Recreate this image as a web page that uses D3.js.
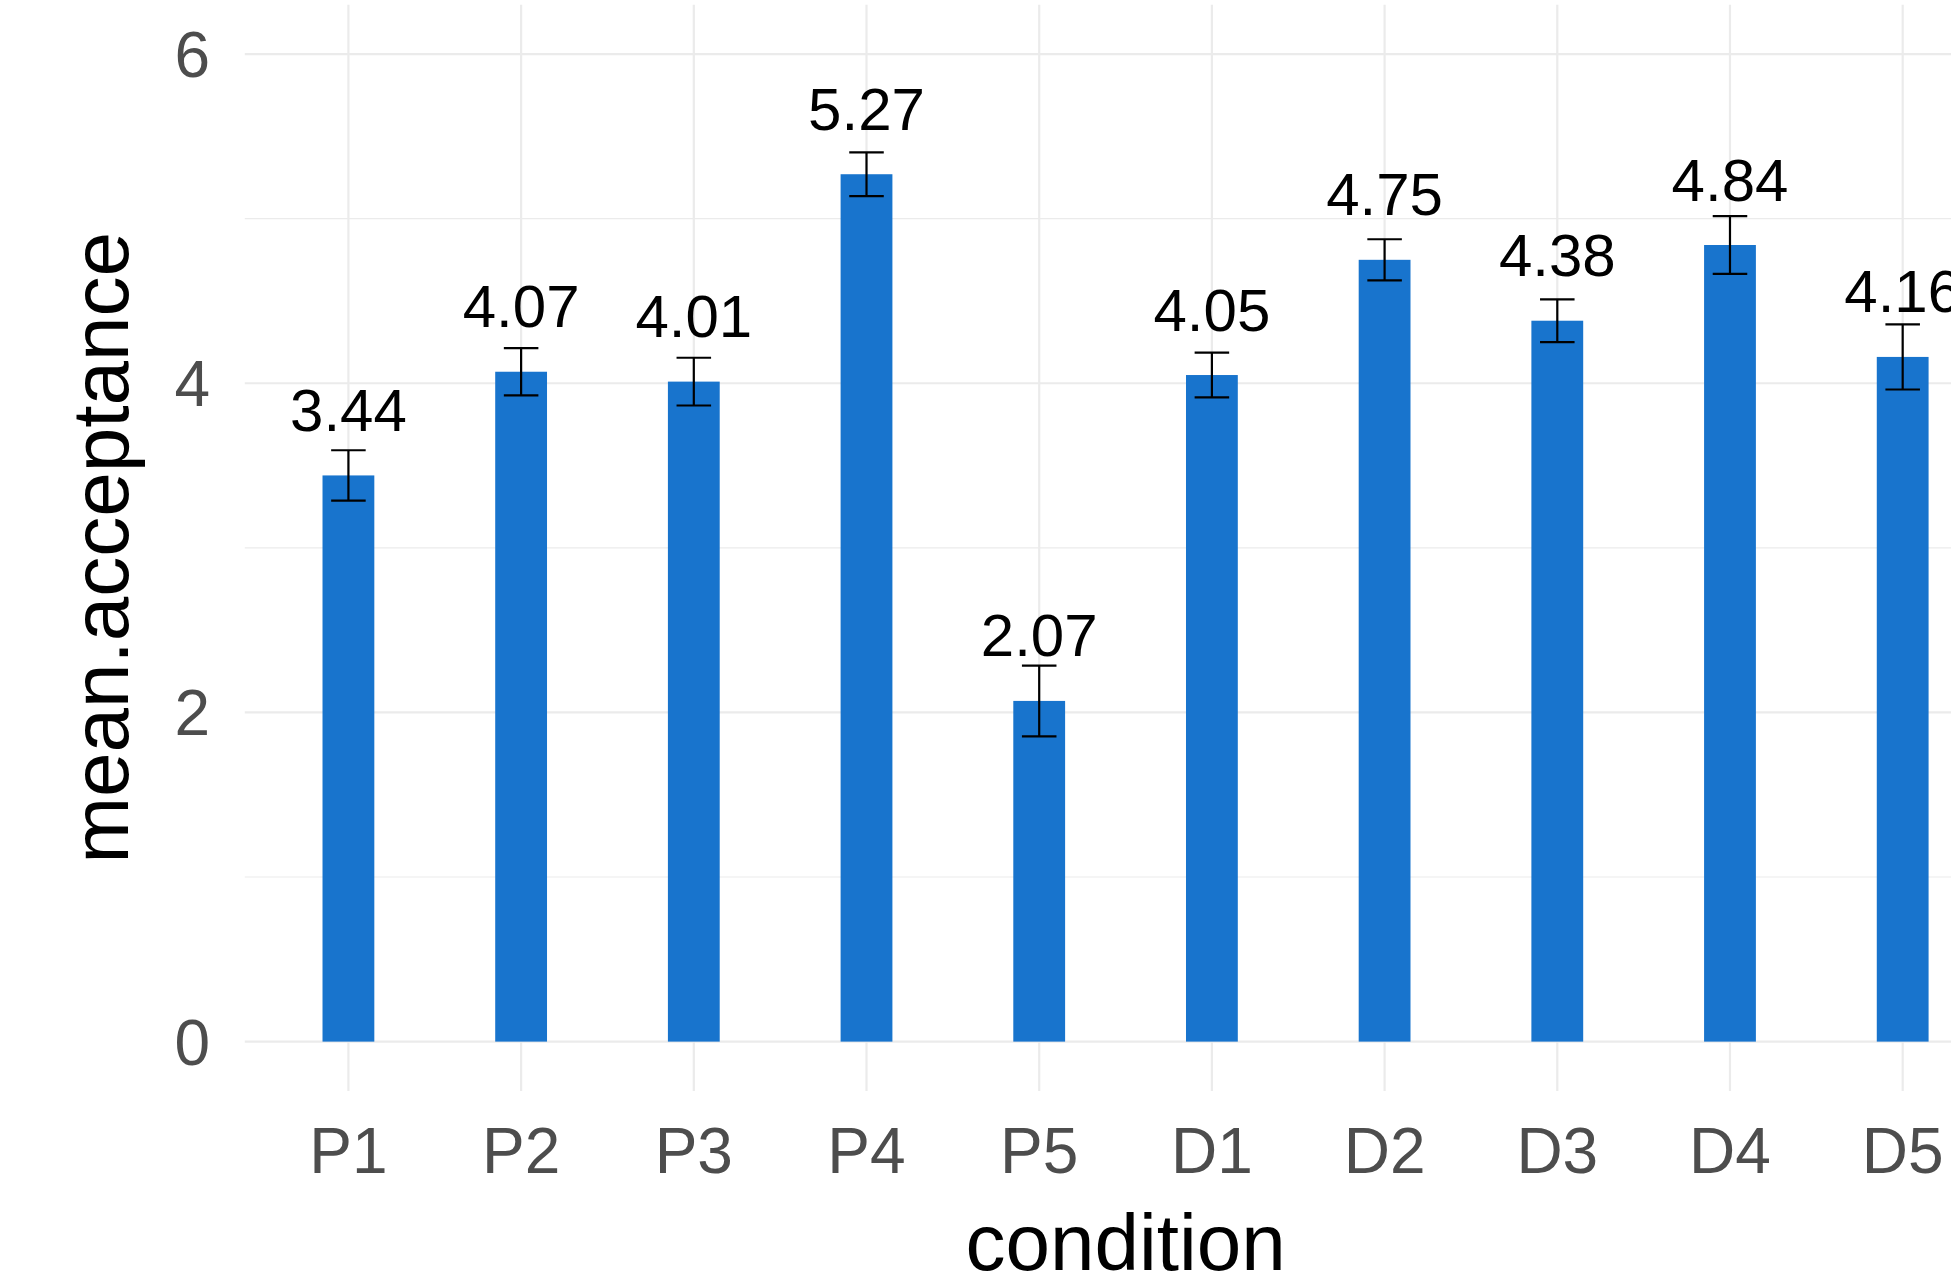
<!DOCTYPE html>
<html>
<head>
<meta charset="utf-8">
<script src="https://cdnjs.cloudflare.com/ajax/libs/d3/7.8.5/d3.min.js"></script>
<style>
	body { margin: 0; background: #ffffff; }
	svg { display: block; font-family: "Liberation Sans", Arial, Helvetica, sans-serif; }
</style>
</head>
<body>
<svg id="vis_canvas" width="1951" height="1278"></svg>
<script>
// Conditions on the x axis.
let conditions = ["P1", "P2", "P3", "P4", "P5", "D1", "D2", "D3", "D4", "D5"];
// Mean acceptance per condition.
let mean_acceptance = [3.44, 4.07, 4.01, 5.27, 2.07, 4.05, 4.75, 4.38, 4.84, 4.16];
// Standard error per condition (half length of the error bar).
let std_error = [0.153, 0.144, 0.145, 0.133, 0.215, 0.136, 0.125, 0.13, 0.175, 0.198];
// Y axis ticks.
let major_ticks = [0, 2, 4, 6];
let minor_ticks = [1, 3, 5];

let data = conditions.map(function (c, i) {
	return { condition: c, mean: mean_acceptance[i], se: std_error[i] };
});

// Panel, it runs past the right side of the picture.
let panel_left = 244.8, panel_right = 2006.3, panel_top = 4.7, panel_bottom = 1091;

let x = d3.scalePoint()
	.domain(conditions)
	.range([panel_left, panel_right])
	.padding(0.6);

let y = d3.scaleLinear()
	.domain([-0.3, 6.3])
	.range([panel_bottom, panel_top]);

let step = x.step();
let bar_width = step * 0.3;
let cap_width = step * 0.2;

let svg = d3.select("#vis_canvas");

svg.append("rect")
	.attr("width", 1951)
	.attr("height", 1278)
	.attr("fill", "#ffffff");

// Minor grid lines first, then major ones.
svg.selectAll(".minor")
	.data(minor_ticks)
	.enter().append("line")
	.attr("class", "minor")
	.attr("x1", panel_left).attr("x2", panel_right)
	.attr("y1", d => y(d)).attr("y2", d => y(d))
	.attr("stroke", "#ebebeb")
	.attr("stroke-width", 1.1);

svg.selectAll(".major-y")
	.data(major_ticks)
	.enter().append("line")
	.attr("class", "major-y")
	.attr("x1", panel_left).attr("x2", panel_right)
	.attr("y1", d => y(d)).attr("y2", d => y(d))
	.attr("stroke", "#ebebeb")
	.attr("stroke-width", 2.2);

svg.selectAll(".major-x")
	.data(conditions)
	.enter().append("line")
	.attr("class", "major-x")
	.attr("x1", d => x(d)).attr("x2", d => x(d))
	.attr("y1", panel_top).attr("y2", panel_bottom)
	.attr("stroke", "#ebebeb")
	.attr("stroke-width", 2.2);

// Bars.
svg.selectAll(".bar")
	.data(data)
	.enter().append("rect")
	.attr("class", "bar")
	.attr("x", d => x(d.condition) - bar_width / 2)
	.attr("width", bar_width)
	.attr("y", d => y(d.mean))
	.attr("height", d => y(0) - y(d.mean))
	.attr("fill", "#1874cd");

// Error bars: stem and two caps.
let err = svg.selectAll(".err")
	.data(data)
	.enter().append("g")
	.attr("class", "err")
	.attr("stroke", "#000000")
	.attr("stroke-width", 2.2);

err.append("line")
	.attr("x1", d => x(d.condition)).attr("x2", d => x(d.condition))
	.attr("y1", d => y(d.mean + d.se)).attr("y2", d => y(d.mean - d.se));

err.append("line")
	.attr("x1", d => x(d.condition) - cap_width / 2).attr("x2", d => x(d.condition) + cap_width / 2)
	.attr("y1", d => y(d.mean + d.se)).attr("y2", d => y(d.mean + d.se));

err.append("line")
	.attr("x1", d => x(d.condition) - cap_width / 2).attr("x2", d => x(d.condition) + cap_width / 2)
	.attr("y1", d => y(d.mean - d.se)).attr("y2", d => y(d.mean - d.se));

// Value labels above each bar.
svg.selectAll(".value")
	.data(data)
	.enter().append("text")
	.attr("class", "value")
	.attr("x", d => x(d.condition))
	.attr("y", d => y(d.mean + 0.27))
	.attr("text-anchor", "middle")
	.attr("font-size", 60)
	.attr("fill", "#000000")
	.text(d => d.mean.toFixed(2));

// Y tick labels.
svg.selectAll(".ytick")
	.data(major_ticks)
	.enter().append("text")
	.attr("class", "ytick")
	.attr("x", 210)
	.attr("y", d => y(d) + 23)
	.attr("text-anchor", "end")
	.attr("font-size", 64)
	.attr("fill", "#4d4d4d")
	.text(d => d);

// X tick labels.
svg.selectAll(".xtick")
	.data(conditions)
	.enter().append("text")
	.attr("class", "xtick")
	.attr("x", d => x(d))
	.attr("y", 1173)
	.attr("text-anchor", "middle")
	.attr("font-size", 64)
	.attr("fill", "#4d4d4d")
	.text(d => d);

// Axis titles.
svg.append("text")
	.attr("x", (panel_left + panel_right) / 2)
	.attr("y", 1270)
	.attr("text-anchor", "middle")
	.attr("font-size", 80)
	.attr("fill", "#000000")
	.text("condition");

svg.append("text")
	.attr("transform", "translate(128," + ((panel_top + panel_bottom) / 2) + ") rotate(-90)")
	.attr("text-anchor", "middle")
	.attr("font-size", 80)
	.attr("fill", "#000000")
	.text("mean.acceptance");
</script>
</body>
</html>
